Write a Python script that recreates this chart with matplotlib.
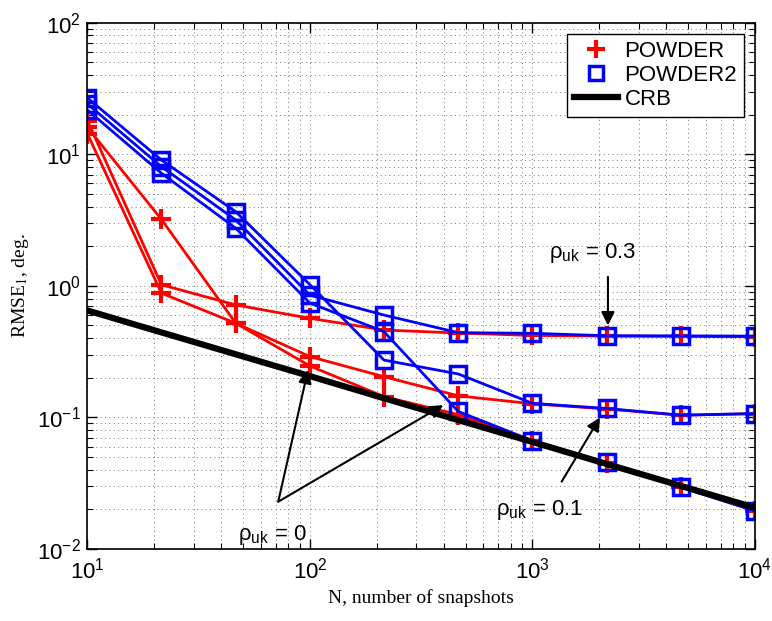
import numpy as np
import matplotlib
matplotlib.use("Agg")
import matplotlib.pyplot as plt
from matplotlib.lines import Line2D
from matplotlib.ticker import LogLocator, NullFormatter

plt.rcParams['font.family'] = ['Liberation Sans', 'DejaVu Sans']
plt.rcParams['mathtext.fontset'] = 'custom'
plt.rcParams['mathtext.rm'] = 'Liberation Sans'
plt.rcParams['mathtext.it'] = 'Liberation Sans:italic'
plt.rcParams['mathtext.bf'] = 'Liberation Sans:bold'

# number of snapshots
N = [10, 21.5, 46.4, 100, 215, 464, 1000, 2154, 4642, 10000]

# POWDER (red), one curve per rho_uk
powder_rho0 = [16.0, 3.2, 0.52, 0.246, 0.144, 0.105, 0.066, 0.045, 0.0295, 0.0195]
powder_rho01 = [14.3, 0.88, 0.52, 0.29, 0.204, 0.146, 0.127, 0.116, 0.104, 0.107]
powder_rho03 = [18.0, 1.02, 0.716, 0.567, 0.462, 0.438, 0.42, 0.415, 0.413, 0.41]

# POWDER2 (blue)
powder2_rho0 = [21.7, 7.18, 2.74, 0.74, 0.449, 0.111, 0.0665, 0.0455, 0.0295, 0.0195]
powder2_rho01 = [26.8, 9.05, 3.66, 1.02, 0.273, 0.214, 0.128, 0.117, 0.104, 0.107]
powder2_rho03 = [24.1, 8.05, 3.17, 0.85, 0.60, 0.441, 0.436, 0.418, 0.417, 0.415]

# Cramer-Rao bound
crb = [0.65, 0.443, 0.302, 0.206, 0.140, 0.0955, 0.0651, 0.0443, 0.0302, 0.0206]

fig = plt.figure(figsize=(7.72, 6.21), dpi=100)
ax = fig.add_axes([0.1133, 0.1159, 0.8647, 0.8475])

red_kw = dict(color='red', lw=2, marker='+', markersize=14, mew=3)
blue_kw = dict(color='blue', lw=2, marker='s', markersize=11, mew=2.5, mfc='none')

for y in (powder_rho0, powder_rho01, powder_rho03):
    ax.plot(N, y, **red_kw)
for y in (powder2_rho0, powder2_rho01, powder2_rho03):
    ax.plot(N, y, **blue_kw)
ax.plot(N, crb, color='black', lw=4.5)

ax.set_xscale('log')
ax.set_yscale('log')
ax.set_xlim(10, 1e4)
ax.set_ylim(1e-2, 1e2)

ax.xaxis.set_major_locator(LogLocator(base=10, numticks=10))
ax.yaxis.set_major_locator(LogLocator(base=10, numticks=10))
ax.xaxis.set_minor_locator(LogLocator(base=10, subs=np.arange(2, 10), numticks=20))
ax.yaxis.set_minor_locator(LogLocator(base=10, subs=np.arange(2, 10), numticks=20))
ax.xaxis.set_minor_formatter(NullFormatter())
ax.yaxis.set_minor_formatter(NullFormatter())

ax.grid(True, which='both', linestyle=(0, (1, 3.5)), color='#777777', lw=0.7)
ax.tick_params(which='both', direction='in', top=True, right=True, labelsize=16)
ax.tick_params(which='major', length=7, width=1)
ax.tick_params(which='minor', length=4, width=0.8)
ax.tick_params(axis='x', pad=6)
ax.tick_params(axis='y', pad=5)
for s in ax.spines.values():
    s.set_linewidth(1.2)

ax.set_xlabel('N, number of snapshots', family='Liberation Serif', fontsize=14, labelpad=4)
ax.set_ylabel('RMSE$_1$, deg.', family='Liberation Serif', fontsize=14,
              math_fontfamily='stix', labelpad=4)

# annotations
arrow = dict(arrowstyle='-|>', color='black', lw=1.5, mutation_scale=20,
             shrinkA=0, shrinkB=0)
ax.text(1870, 1.78, 'ρ$_{\\mathrm{uk}}$ = 0.3', fontsize=16, ha='center', va='center')
ax.annotate('', xy=(2183, 0.5), xytext=(2183, 1.17), arrowprops=arrow)

ax.text(1081, 0.0198, 'ρ$_{\\mathrm{uk}}$ = 0.1', fontsize=16, ha='center', va='center')
ax.annotate('', xy=(2010, 0.1), xytext=(1352, 0.0325), arrowprops=arrow)

ax.text(67.5, 0.0128, 'ρ$_{\\mathrm{uk}}$ = 0', fontsize=16, ha='center', va='center')
ax.annotate('', xy=(98, 0.23), xytext=(72, 0.0229), arrowprops=arrow)
ax.annotate('', xy=(397, 0.124), xytext=(72, 0.0229), arrowprops=arrow)

handles = [
    Line2D([], [], color='red', marker='+', linestyle='none', markersize=13, mew=3),
    Line2D([], [], color='blue', marker='s', linestyle='none', markersize=10, mew=2.5, mfc='none'),
    Line2D([], [], color='black', lw=4.5),
]
leg = ax.legend(handles, ['POWDER', 'POWDER2', 'CRB'], loc='upper right', fontsize=16,
                fancybox=False, framealpha=1, edgecolor='black', borderpad=0.3,
                labelspacing=0.15, handlelength=2.0, handletextpad=0.3,
                borderaxespad=0.5)
leg.get_frame().set_linewidth(1.0)

fig.savefig('out.png', dpi=100)
